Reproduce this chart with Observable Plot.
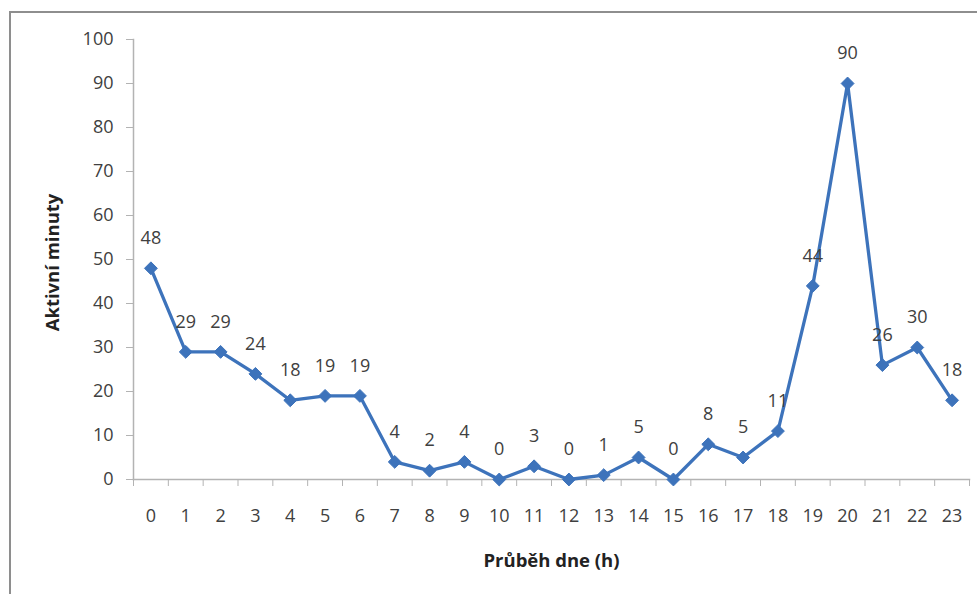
<!DOCTYPE html>
<html>
<head>
<meta charset="utf-8">
<script src="https://cdn.jsdelivr.net/npm/d3@7"></script>
<script src="https://cdn.jsdelivr.net/npm/@observablehq/plot@0.6"></script>
<style>
  body { margin: 0; background: #fff; }
  #wrap { position: relative; width: 977px; height: 594px; overflow: hidden; background: #fff; }
  #frame { position: absolute; left: 9px; top: 11px; width: 1100px; height: 700px;
           border-top: 2px solid #8e8e8e; border-left: 2px solid #8e8e8e; }
  #chart { position: absolute; left: 0; top: 0; }
</style>
</head>
<body>
<div id="wrap"><div id="frame"></div><div id="chart"></div></div>
<script>
// Hours of the day (0–23) and active minutes recorded in each hour
const hours = [0, 1, 2, 3, 4, 5, 6, 7, 8, 9, 10, 11, 12, 13, 14, 15, 16, 17, 18, 19, 20, 21, 22, 23];
const minutes = [48, 29, 29, 24, 18, 19, 19, 4, 2, 4, 0, 3, 0, 1, 5, 0, 8, 5, 11, 44, 90, 26, 30, 18];
const yTicks = [0, 10, 20, 30, 40, 50, 60, 70, 80, 90, 100];
const xTitle = "Průběh dne (h)";
const yTitle = "Aktivní minuty";

const data = hours.map((h, i) => ({ hour: h, value: minutes[i] }));
// category boundaries, where the x-axis tick marks sit
const bounds = [...hours.map(h => h - 0.5), hours[hours.length - 1] + 0.5];

const font = "'Open Sans', sans-serif";
const textColor = "#404040";
const axisColor = "#b3b3b3";
const lineColor = "#3d73bb";

const chart = Plot.plot({
  width: 977,
  height: 594,
  marginLeft: 133,
  marginRight: 8,
  marginTop: 39,
  marginBottom: 115,
  style: { fontFamily: font, fontSize: "18px", color: textColor, background: "transparent" },
  x: { domain: [bounds[0], bounds[bounds.length - 1]] },
  y: { domain: [0, 100] },
  marks: [
    Plot.frame({ anchor: "left", stroke: axisColor, strokeWidth: 1.5 }),
    Plot.frame({ anchor: "bottom", stroke: axisColor, strokeWidth: 1.5 }),
    Plot.axisY(yTicks, { tickSize: 7, tickPadding: 13, stroke: axisColor, fill: textColor, label: null }),
    Plot.axisX(bounds, { tickSize: 7, tickFormat: () => "", stroke: axisColor, label: null }),
    Plot.axisX(hours, { tickSize: 0, tickPadding: 30, fill: textColor, label: null }),
    Plot.line(data, { x: "hour", y: "value", stroke: lineColor, strokeWidth: 3.3 }),
    Plot.dot(data, { x: "hour", y: "value", symbol: "diamond2", r: 5.8, fill: lineColor, stroke: lineColor, strokeWidth: 1 }),
    Plot.text(data, { x: "hour", y: "value", text: d => String(d.value), dy: -30, fill: textColor, fontSize: 18 }),
    Plot.text([yTitle], { frameAnchor: "left", textAnchor: "middle", dx: -80, dy: 3, rotate: -90, fontWeight: "bold", fontSize: 18.5, fill: "#222" }),
    Plot.text([xTitle], { frameAnchor: "bottom", textAnchor: "middle", dy: 87, fontWeight: "bold", fontSize: 18.5, fill: "#222" })
  ]
});
document.getElementById("chart").appendChild(chart);
</script>
</body>
</html>
